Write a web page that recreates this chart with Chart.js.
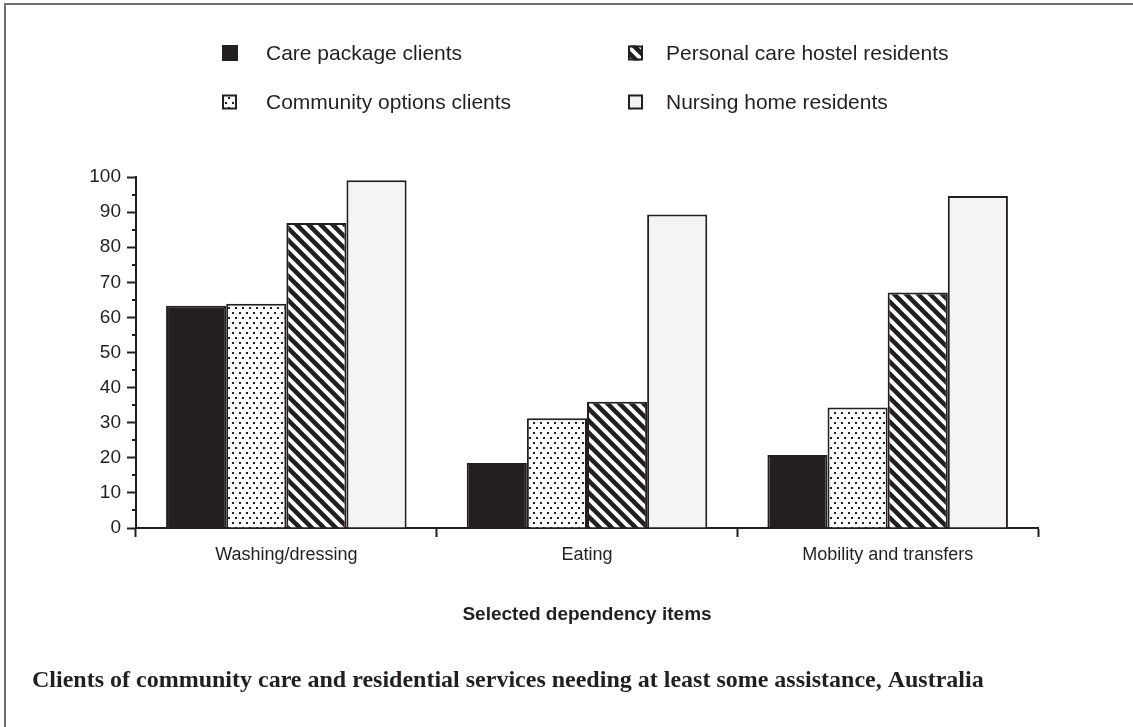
<!DOCTYPE html>
<html>
<head>
<meta charset="utf-8">
<title>Clients needing assistance</title>
<script src="https://cdn.jsdelivr.net/npm/chart.js@4.4.0/dist/chart.umd.min.js"></script>
<style>
  html, body { margin: 0; padding: 0; background: #fff; }
  #wrap { width: 1133px; height: 727px; position: relative; }
</style>
</head>
<body>
<div id="wrap"><canvas id="chart" width="1133" height="727"></canvas></div>
<script>
// Categories and series (per cent of clients needing at least some assistance)
const categories = ['Washing/dressing', 'Eating', 'Mobility and transfers'];
const carePackage = [63.3, 18.5, 20.8];
const communityOptions = [63.9, 31.3, 34.3];
const hostelResidents = [86.9, 36.0, 67.1];
const nursingHome = [99.1, 89.3, 94.6];
const seriesLabels = [
  'Care package clients',
  'Community options clients',
  'Personal care hostel residents',
  'Nursing home residents'
];
const yTicks = [0, 10, 20, 30, 40, 50, 60, 70, 80, 90, 100];

const INK = '#231f20';
const SANS = '"Liberation Sans", Arial, sans-serif';

// Dotted fill
function makeDots() {
  const c = document.createElement('canvas');
  c.width = 7; c.height = 10;
  const g = c.getContext('2d');
  g.fillStyle = '#fff';
  g.fillRect(0, 0, 7, 10);
  g.fillStyle = INK;
  g.fillRect(1, 2, 2, 2);
  g.fillRect(4, 7, 2, 2);
  return g.createPattern(c, 'repeat');
}

// Diagonal "\" stripes
function makeHatch() {
  const s = 12;
  const c = document.createElement('canvas');
  c.width = s; c.height = s;
  const g = c.getContext('2d');
  g.fillStyle = '#fff';
  g.fillRect(0, 0, s, s);
  g.strokeStyle = INK;
  g.lineWidth = 4.5;
  [-s, 0, s].forEach(off => {
    g.beginPath();
    g.moveTo(-2, off - 2);
    g.lineTo(s + 2, off + s + 2);
    g.stroke();
  });
  return g.createPattern(c, 'repeat');
}

const fills = [INK, makeDots(), makeHatch(), '#f4f4f4'];

// Page frame, custom legend, minor ticks and caption
const decorations = {
  id: 'decorations',
  beforeDraw(chart) {
    const ctx = chart.ctx;
    ctx.save();
    ctx.fillStyle = '#fff';
    ctx.fillRect(0, 0, chart.width, chart.height);
    ctx.strokeStyle = '#6e6e6e';
    ctx.lineWidth = 2;
    ctx.beginPath();
    ctx.moveTo(5, chart.height);
    ctx.lineTo(5, 4);
    ctx.lineTo(chart.width, 4);
    ctx.stroke();
    ctx.restore();
  },
  afterDraw(chart) {
    const ctx = chart.ctx;
    const y = chart.scales.y;
    ctx.save();

    // minor ticks every 5 units
    ctx.strokeStyle = INK;
    ctx.lineWidth = 2;
    for (let v = 5; v < 100; v += 10) {
      const py = Math.round(y.getPixelForValue(v));
      ctx.beginPath();
      ctx.moveTo(y.right - 4, py);
      ctx.lineTo(y.right, py);
      ctx.stroke();
    }

    // legend, two columns
    const spots = [
      { x: 222, y: 54 }, { x: 222, y: 103 },
      { x: 628, y: 54 }, { x: 628, y: 103 }
    ];
    ctx.font = '21px ' + SANS;
    ctx.textBaseline = 'middle';
    chart.data.datasets.forEach((ds, i) => {
      const p = spots[i];
      const size = i === 0 ? 16 : 15;
      ctx.fillStyle = ds.backgroundColor;
      ctx.fillRect(p.x, p.y - size / 2 - 1, size, size);
      if (i > 0) {
        ctx.strokeStyle = INK;
        ctx.lineWidth = 2;
        ctx.strokeRect(p.x + 1, p.y - size / 2, size - 2, size - 2);
      }
      ctx.fillStyle = INK;
      ctx.fillText(ds.label, p.x + (i < 2 ? 44 : 38), p.y);
    });

    // caption
    ctx.font = 'bold 24px "Liberation Serif", "Times New Roman", serif';
    ctx.textBaseline = 'middle';
    ctx.fillStyle = INK;
    ctx.fillText('Clients of community care and residential services needing at least some assistance, Australia', 32, 681);
    ctx.restore();
  }
};

const datasets = [carePackage, communityOptions, hostelResidents, nursingHome].map((vals, i) => ({
  label: seriesLabels[i],
  data: vals,
  backgroundColor: fills[i],
  borderColor: INK,
  borderWidth: 2,
  borderSkipped: 'bottom',
  categoryPercentage: 0.8,
  barPercentage: 1.0
}));

new Chart(document.getElementById('chart'), {
  type: 'bar',
  data: { labels: categories, datasets: datasets },
  options: {
    responsive: false,
    animation: false,
    layout: { padding: { left: 76, top: 177, right: 95, bottom: 101 } },
    plugins: {
      legend: { display: false },
      tooltip: { enabled: false },
      title: { display: false }
    },
    scales: {
      x: {
        grid: {
          offset: true,
          drawOnChartArea: false,
          drawTicks: true,
          tickLength: 9,
          tickWidth: 2,
          tickColor: INK
        },
        border: { display: true, color: INK, width: 2 },
        ticks: { color: INK, font: { family: SANS, size: 18 }, padding: 7 },
        title: {
          display: true,
          text: 'Selected dependency items',
          color: INK,
          font: { family: SANS, size: 19, weight: 'bold' },
          padding: 0
        },
        afterFit(scale) { scale.height = 98; }
      },
      y: {
        min: 0,
        max: 100,
        afterBuildTicks(scale) { scale.ticks = yTicks.map(v => ({ value: v })); },
        grid: {
          drawOnChartArea: false,
          drawTicks: true,
          tickLength: 9,
          tickWidth: 2,
          tickColor: INK
        },
        border: { display: true, color: INK, width: 2 },
        ticks: { color: INK, font: { family: SANS, size: 19 }, padding: 6 },
        afterFit(scale) { scale.width = 60; }
      }
    }
  },
  plugins: [decorations]
});
</script>
</body>
</html>
